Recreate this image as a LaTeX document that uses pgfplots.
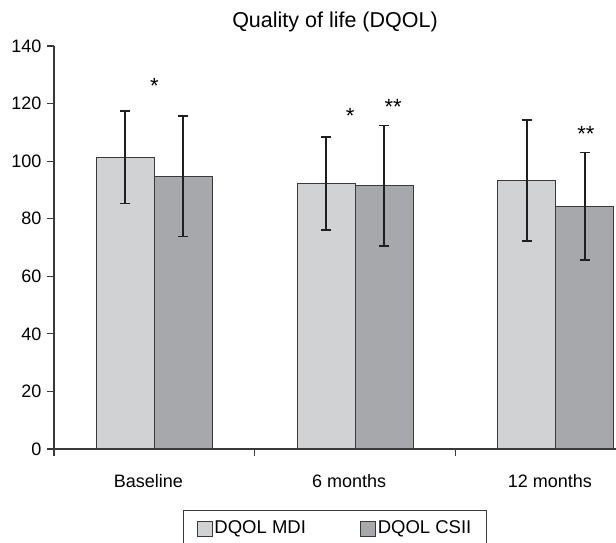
\documentclass[border=0pt]{standalone}
\usepackage{fontspec}
\setmainfont{Liberation Sans}
\usepackage{pgfplots}
\pgfplotsset{compat=1.18}
\definecolor{mdi}{HTML}{D1D2D4}
\definecolor{csii}{HTML}{A7A8AB}
\definecolor{edge}{HTML}{3A3A3A}
\newcommand{\fs}{\fontsize{18}{21}\selectfont}
\newcommand{\fl}{\fontsize{18.5}{22}\selectfont}
\newcommand{\ft}{\fontsize{21.5}{25}\selectfont}
\newcommand{\fst}{\fontsize{22}{26}\selectfont}
\pgfplotsset{
  myerr/.style={
    error bars/y dir=both, error bars/y explicit,
    error bars/error bar style={line width=1.8pt, color=black!88},
    error bars/error mark options={rotate=90, mark size=5pt, line width=1.8pt, color=black!88},
  }
}
\begin{document}
\begin{tikzpicture}
\begin{axis}[
  scale only axis, width=562pt, height=403pt,
  xmin=-0.5, xmax=2.3, ymin=0, ymax=140,
  ybar=0pt, bar width=58pt,
  axis x line*=bottom, axis y line*=left,
  axis line style={draw=edge, line width=1.1pt},
  tick align=outside, major tick length=7pt,
  tick style={draw=edge, line width=1.1pt},
  xtick={0,1,2}, xticklabels={Baseline,6 months,12 months},
  major x tick style={draw=none},
  extra x ticks={-0.5,0.5,1.5}, extra x tick labels={},
  extra x tick style={major x tick style={draw=edge, line width=1.1pt}},
  ytick={0,20,...,140},
  /pgf/number format/assume math mode=true,
  every tick label/.append style={font=\fs},
  xticklabel style={anchor=base, yshift=-31pt, xshift=-6pt},
  yticklabel style={xshift=-2pt},
  title={Quality of life (DQOL)},
  title style={font=\ft, at={(0.5,1)}, anchor=base, yshift=13pt},
  legend style={at={(0.5,0)}, anchor=north, yshift=-61pt, legend columns=2,
    draw=edge, line width=1pt, font=\fl, inner xsep=13pt, inner ysep=8pt,
    nodes={inner xsep=2pt},
    /tikz/every even column/.append style={column sep=52pt}},
  legend image code/.code={\draw[#1, draw=edge, line width=0.8pt] (0pt,-9pt) rectangle (15pt,6pt);},
]
\addplot[fill=mdi, draw=edge, line width=1.1pt, myerr] coordinates {
  (0,101.3) +- (0,16.0)
  (1,92.3) +- (0,16.2)
  (2,93.2) +- (0,21.0)
};
\addplot[fill=csii, draw=edge, line width=1.1pt, myerr] coordinates {
  (0,94.8) +- (0,21.0)
  (1,91.4) +- (0,21.0)
  (2,84.3) +- (0,18.7)
};
\legend{DQOL MDI, DQOL CSII}
\node[font=\fst, anchor=base] at (axis cs:0,123.6) {*};
\node[font=\fst, anchor=base] at (axis cs:0.975,113.1) {*};
\node[font=\fst, anchor=base] at (axis cs:1.19,116.2) {**};
\node[font=\fst, anchor=base] at (axis cs:2.15,106.8) {**};
\end{axis}
\pgfresetboundingbox
\useasboundingbox (-54pt,-93pt) rectangle (562pt,449pt);
\end{tikzpicture}
\end{document}
